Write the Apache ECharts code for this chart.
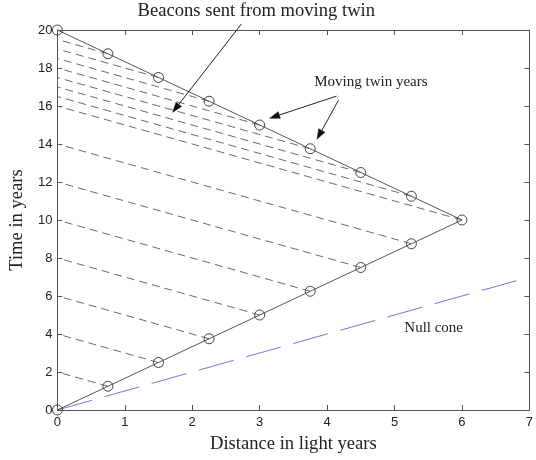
<!DOCTYPE html>
<html>
<head>
<meta charset="utf-8">
<script src="https://cdn.jsdelivr.net/npm/echarts@6/dist/echarts.min.js"></script>
<style>html,body{margin:0;padding:0;background:#fff;}#c{width:536px;height:460px;}</style>
</head>
<body>
<div id="c"></div>
<script>
// Moving twin worldline (marker points, one per moving-twin year)
const twinX = [0, 0.75, 1.5, 2.25, 3, 3.75, 4.5, 5.25, 6, 5.25, 4.5, 3.75, 3, 2.25, 1.5, 0.75, 0];
const twinY = [0, 1.25, 2.5, 3.75, 5, 6.25, 7.5, 8.75, 10, 11.25, 12.5, 13.75, 15, 16.25, 17.5, 18.75, 20];
// Beacon arrival times at x = 0 for twin points 1..15
const beaconArrivalY = [2, 4, 6, 8, 10, 12, 14, 16, 16.5, 17, 17.5, 18, 18.5, 19, 19.5];
// Null cone
const nullConeX = [0, 7];
const nullConeY = [0, 7];
// Axis ticks
const xTicks = [0, 1, 2, 3, 4, 5, 6, 7];
const yTicks = [0, 2, 4, 6, 8, 10, 12, 14, 16, 18, 20];
// Annotation arrows [x1, y1, x2, y2] in data units (tip at x2, y2)
const arrows = [
  [2.73, 20.32, 1.71, 15.67],
  [4.14, 16.52, 3.15, 15.36],
  [4.17, 16.31, 3.85, 14.25]
];
// Annotation texts
const notes = [
  {text: 'Beacons sent from moving twin', x: 2.95, y: 21.0, align: 'center', size: 18.6},
  {text: 'Moving twin years', x: 4.65, y: 17.26, align: 'center', size: 15},
  {text: 'Null cone', x: 5.145, y: 4.33, align: 'left', size: 15}
];

const serif = '"Liberation Serif", "DejaVu Serif", serif';
const sans = '"Liberation Sans", Arial, sans-serif';
const axisCol = '#555';

const series = [];
for (let i = 1; i < twinX.length - 1; i++) {
  series.push({
    type: 'line', xAxisIndex: 0, yAxisIndex: 0, showSymbol: false, silent: true, z: 1,
    data: [[twinX[i], twinY[i]], [0, beaconArrivalY[i - 1]]],
    lineStyle: {color: '#6a6a6a', width: 1, type: [8, 5]}
  });
}
series.push({
  type: 'line', xAxisIndex: 0, yAxisIndex: 0, showSymbol: false, silent: true, z: 2,
  data: nullConeX.map((x, i) => [x, nullConeY[i]]),
  lineStyle: {color: '#7474e0', width: 1, type: [36, 13]}
});
series.push({
  type: 'line', xAxisIndex: 0, yAxisIndex: 0, silent: true, z: 3, clip: false,
  data: twinX.map((x, i) => [x, twinY[i]]),
  symbol: 'circle', symbolSize: 10, showSymbol: true,
  lineStyle: {color: '#555', width: 1},
  itemStyle: {color: 'rgba(0,0,0,0)', borderColor: '#444', borderWidth: 1}
});

const xBase = {
  type: 'value', min: 0, max: 7, interval: 1,
  splitLine: {show: false},
  axisLine: {show: true, onZero: false, lineStyle: {color: axisCol, width: 1}},
  axisTick: {show: true, inside: true, length: 5, lineStyle: {color: axisCol}}
};
const yBase = {
  type: 'value', min: 0, max: 20, interval: 2,
  splitLine: {show: false},
  axisLine: {show: true, onZero: false, lineStyle: {color: axisCol, width: 1}},
  axisTick: {show: true, inside: true, length: 5, lineStyle: {color: axisCol}}
};

const chart = echarts.init(document.getElementById('c'));
chart.setOption({
  animation: false,
  backgroundColor: '#fff',
  grid: {left: 50, right: 4, top: 30, bottom: 50, containLabel: false},
  xAxis: [
    Object.assign({}, xBase, {
      position: 'bottom',
      axisLabel: {show: true, margin: 6, color: '#222', fontFamily: sans, fontSize: 13,
        formatter: v => xTicks.includes(v) ? String(v) : ''},
      name: 'Distance in light years', nameLocation: 'middle', nameGap: 25,
      nameTextStyle: {fontFamily: serif, fontSize: 18.6, color: '#222'}
    }),
    Object.assign({}, xBase, {position: 'top', axisLabel: {show: false}})
  ],
  yAxis: [
    Object.assign({}, yBase, {
      position: 'left',
      axisLabel: {show: true, margin: 5, color: '#222', fontFamily: sans, fontSize: 13,
        formatter: v => yTicks.includes(v) ? String(v) : ''},
      name: 'Time in years', nameLocation: 'middle', nameGap: 24,
      nameTextStyle: {fontFamily: serif, fontSize: 18.6, color: '#222'}
    }),
    Object.assign({}, yBase, {position: 'right', axisLabel: {show: false}})
  ],
  series: series
});

const px = (x, y) => chart.convertToPixel({gridIndex: 0}, [x, y]);
const graphics = notes.map(n => {
  const p = px(n.x, n.y);
  return {
    type: 'text', x: p[0], y: p[1], silent: true, z: 10,
    style: {text: n.text, fill: '#222', font: n.size + 'px ' + serif,
      textAlign: n.align, textVerticalAlign: 'middle'}
  };
});
arrows.forEach(a => {
  const s = px(a[0], a[1]), e = px(a[2], a[3]);
  const dx = e[0] - s[0], dy = e[1] - s[1];
  const len = Math.sqrt(dx * dx + dy * dy);
  const ux = dx / len, uy = dy / len;
  const L = 10, W = 3.5;
  const bx = e[0] - ux * L, by = e[1] - uy * L;
  graphics.push({
    type: 'line', silent: true, z: 10,
    shape: {x1: s[0], y1: s[1], x2: bx, y2: by},
    style: {stroke: '#222', lineWidth: 1}
  });
  graphics.push({
    type: 'polygon', silent: true, z: 10,
    shape: {points: [[e[0], e[1]], [bx - uy * W, by + ux * W], [bx + uy * W, by - ux * W]]},
    style: {fill: '#111', stroke: '#111', lineWidth: 0.5}
  });
});
chart.setOption({graphic: graphics});
</script>
</body>
</html>
